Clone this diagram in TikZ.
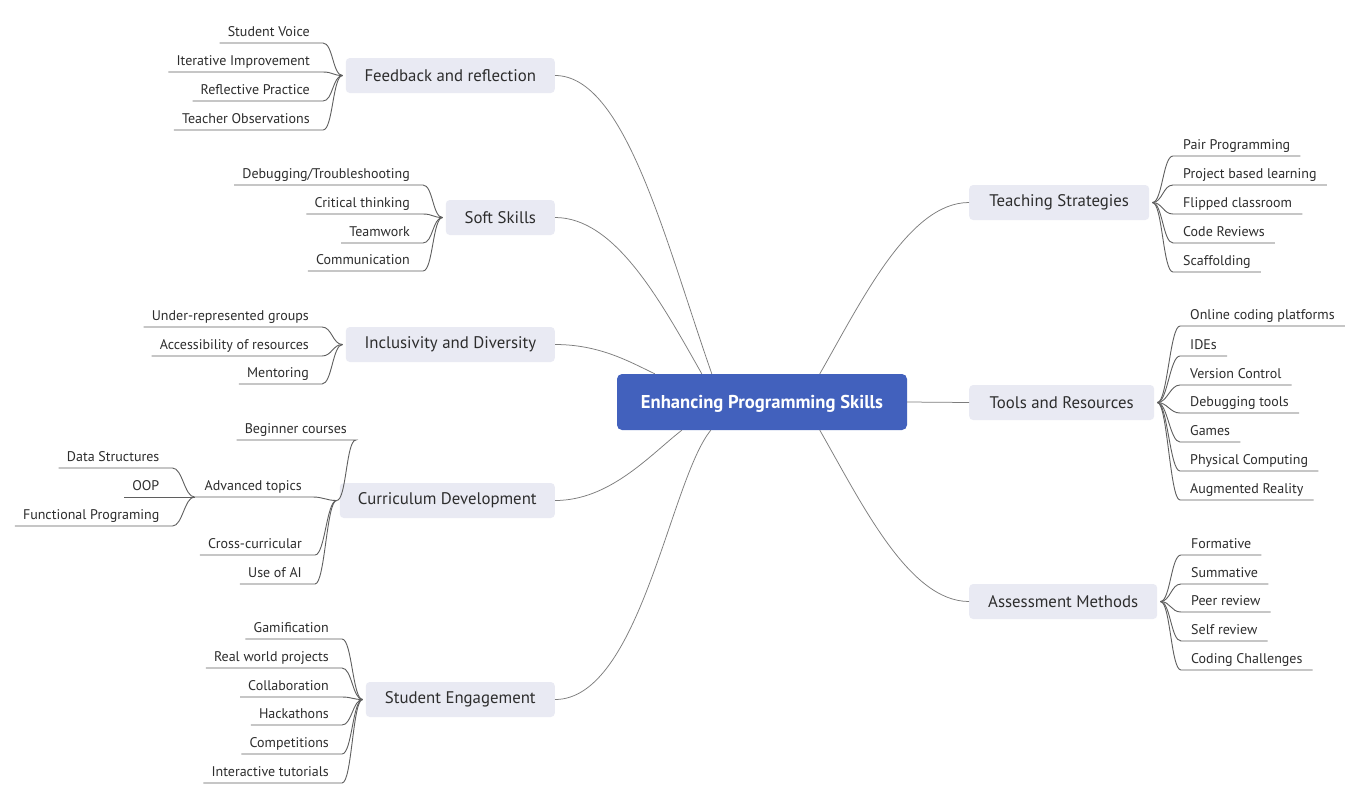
\documentclass[tikz,border=0pt]{standalone}
\usepackage{fontspec}
\setmainfont{PT Sans}
\usetikzlibrary{calc}
\definecolor{rootblue}{RGB}{66,97,189}
\definecolor{topicfill}{RGB}{233,234,243}
\definecolor{txt}{RGB}{45,45,45}
\definecolor{mainline}{RGB}{125,125,125}
\definecolor{subline}{RGB}{95,95,95}
\tikzset{
  rootnode/.style={rectangle, rounded corners=5pt, fill=rootblue, text=white,
    font=\fontsize{18.6}{22}\selectfont\bfseries, text height=13pt, text depth=0pt,
    minimum width=290pt, minimum height=56pt, inner sep=0pt},
  topic/.style={rectangle, rounded corners=4pt, fill=topicfill, text=txt,
    font=\fontsize{16.8}{20}\selectfont, minimum height=35pt, inner sep=0pt},
  leafL/.style={inner sep=0pt, text=txt, font=\fontsize{14}{16}\selectfont, text depth=6pt, anchor=south east},
  leafR/.style={leafL, anchor=south west},
  mainconn/.style={draw=mainline, line width=0.75pt},
  subconn/.style={draw=subline, line width=0.9pt},
}
\newcommand\LLeaf[4]{% name, position (right end of underline), text, hub
  \node[leafL] (#1) at (#2) {\hspace*{8pt}#3\hspace*{13pt}};
  \draw[subconn] (#1.south west) -- (#1.south east) .. controls +(10,0) and +(-10,0) .. (#4);}
\newcommand\RLeaf[4]{% name, position (left end of underline), text, hub
  \node[leafR] (#1) at (#2) {\hspace*{10pt}#3\hspace*{10pt}};
  \draw[subconn] (#4) .. controls +(10,0) and +(-10,0) .. (#1.south west) -- (#1.south east);}
\begin{document}
\begin{tikzpicture}[x=1pt,y=-1pt]
\fill[white] (0,0) rectangle (1360,804);
\useasboundingbox (0,0) rectangle (1360,804);

% root and main topics
\node[rootnode] (root) at (762,402) {Enhancing Programming Skills};
\node[topic, minimum width=209pt, anchor=east] (fb)  at (555,75.5)  {Feedback and reflection};
\node[topic, minimum width=109pt, anchor=east] (ss)  at (555,217.5) {Soft Skills};
\node[topic, minimum width=209pt, anchor=east] (inc) at (555,344.5) {Inclusivity and Diversity};
\node[topic, minimum width=215pt, anchor=east] (cur) at (555,500.5) {Curriculum Development};
\node[topic, minimum width=189pt, anchor=east] (se)  at (555,699.5) {Student Engagement};
\node[topic, minimum width=180pt, anchor=west] (ts)  at (969,202.5) {Teaching Strategies};
\node[topic, minimum width=185pt, anchor=west] (tr)  at (969,402.5) {Tools and Resources};
\node[topic, minimum width=188pt, anchor=west] (am)  at (969,601.5) {Assessment Methods};

% hubs
\coordinate (fbh)  at ([xshift=-3pt]fb.west);
\coordinate (ssh)  at ([xshift=-3pt]ss.west);
\coordinate (inch) at ([xshift=-3pt]inc.west);
\coordinate (curh) at ([xshift=-3pt]cur.west);
\coordinate (seh)  at ([xshift=-3pt]se.west);
\coordinate (tsh)  at ([xshift=3pt]ts.east);
\coordinate (trh)  at ([xshift=3pt]tr.east);
\coordinate (amh)  at ([xshift=3pt]am.east);

% attachment points on root
\coordinate (rfb)  at ([xshift=95pt]root.north west);
\coordinate (rss)  at ([xshift=85pt]root.north west);
\coordinate (rinc) at ([xshift=38pt]root.north west);
\coordinate (rcur) at ([xshift=65pt]root.south west);
\coordinate (rse)  at ([xshift=94pt]root.south west);
\coordinate (rts)  at ([xshift=203pt]root.north west);
\coordinate (ram)  at ([xshift=203pt]root.south west);

% main connectors
\draw[mainconn] (fb.east)  .. controls (625,75.5)  and (665,240) .. (rfb);
\draw[mainconn] (ss.east)  .. controls (615,217.5) and (660,300) .. (rss);
\draw[mainconn] (inc.east) .. controls (600,344.5) and (630,362) .. (rinc);
\draw[mainconn] (cur.east) .. controls (610,500.5) and (650,455) .. (rcur);
\draw[mainconn] (se.east)  .. controls (640,699.5) and (670,480) .. (rse);
\draw[mainconn] (ts.west)  .. controls (909,202.5) and (862,300) .. (rts);
\draw[mainconn] (am.west)  .. controls (909,601.5) and (862,504) .. (ram);
\draw[mainconn] (root.east) -- (tr.west);

% Feedback and reflection
\LLeaf{fb1}{323,43}{Student Voice}{fbh}
\LLeaf{fb2}{323,72}{Iterative Improvement}{fbh}
\LLeaf{fb3}{323,101}{Reflective Practice}{fbh}
\LLeaf{fb4}{323,130}{Teacher Observations}{fbh}

% Soft Skills
\LLeaf{ss1}{423,185}{Debugging/Troubleshooting}{ssh}
\LLeaf{ss2}{423,214}{Critical thinking}{ssh}
\LLeaf{ss3}{423,243}{Teamwork}{ssh}
\LLeaf{ss4}{423,271}{Communication}{ssh}

% Inclusivity and Diversity
\LLeaf{in1}{322,327}{Under-represented groups}{inch}
\LLeaf{in2}{322,356}{Accessibility of resources}{inch}
\LLeaf{in3}{322,384}{Mentoring}{inch}

% Curriculum Development
\node[leafL] (cb) at (356,440) {\hspace*{8pt}Beginner courses\hspace*{9pt}};
\draw[subconn] (cb.south west) -- (cb.south east) .. controls +(-10,0) and +(10,0) .. (curh);
\node[leafL] (cat) at (313,497) {\hspace*{10pt}Advanced topics\hspace*{11pt}};
\draw[subconn] (cat.south west) -- (cat.south east) .. controls +(10,0) and +(-10,0) .. (curh);
\coordinate (cath) at (cat.south west);
\coordinate (catx) at ([xshift=-22pt]cath);
\LLeaf{ca1}{catx |- 0,468}{Data Structures}{cath}
\LLeaf{ca2}{catx |- 0,497}{OOP}{cath}
\LLeaf{ca3}{catx |- 0,526}{Functional Programing}{cath}
\LLeaf{cc}{315,555}{Cross-curricular}{curh}
\LLeaf{cu}{315,584}{Use of AI}{curh}

% Student Engagement
\LLeaf{se1}{342,639}{Gamification}{seh}
\LLeaf{se2}{342,668}{Real world projects}{seh}
\LLeaf{se3}{342,697}{Collaboration}{seh}
\LLeaf{se4}{342,725}{Hackathons}{seh}
\LLeaf{se5}{342,754}{Competitions}{seh}
\LLeaf{se6}{342,783}{Interactive tutorials}{seh}

% Teaching Strategies
\RLeaf{ts1}{1173,156}{Pair Programming}{tsh}
\RLeaf{ts2}{1173,185}{Project based learning}{tsh}
\RLeaf{ts3}{1173,214}{Flipped classroom}{tsh}
\RLeaf{ts4}{1173,243}{Code Reviews}{tsh}
\RLeaf{ts5}{1173,272}{Scaffolding}{tsh}

% Tools and Resources
\RLeaf{tr1}{1180,326}{Online coding platforms}{trh}
\RLeaf{tr2}{1180,356}{IDEs}{trh}
\RLeaf{tr3}{1180,385}{Version Control}{trh}
\RLeaf{tr4}{1180,413}{Debugging tools}{trh}
\RLeaf{tr5}{1180,442}{Games}{trh}
\RLeaf{tr6}{1180,471}{Physical Computing}{trh}
\RLeaf{tr7}{1180,500}{Augmented Reality}{trh}

% Assessment Methods
\RLeaf{am1}{1181,555}{Formative}{amh}
\RLeaf{am2}{1181,584}{Summative}{amh}
\RLeaf{am3}{1181,612}{Peer review}{amh}
\RLeaf{am4}{1181,641}{Self review}{amh}
\RLeaf{am5}{1181,670}{Coding Challenges}{amh}
\end{tikzpicture}
\end{document}
